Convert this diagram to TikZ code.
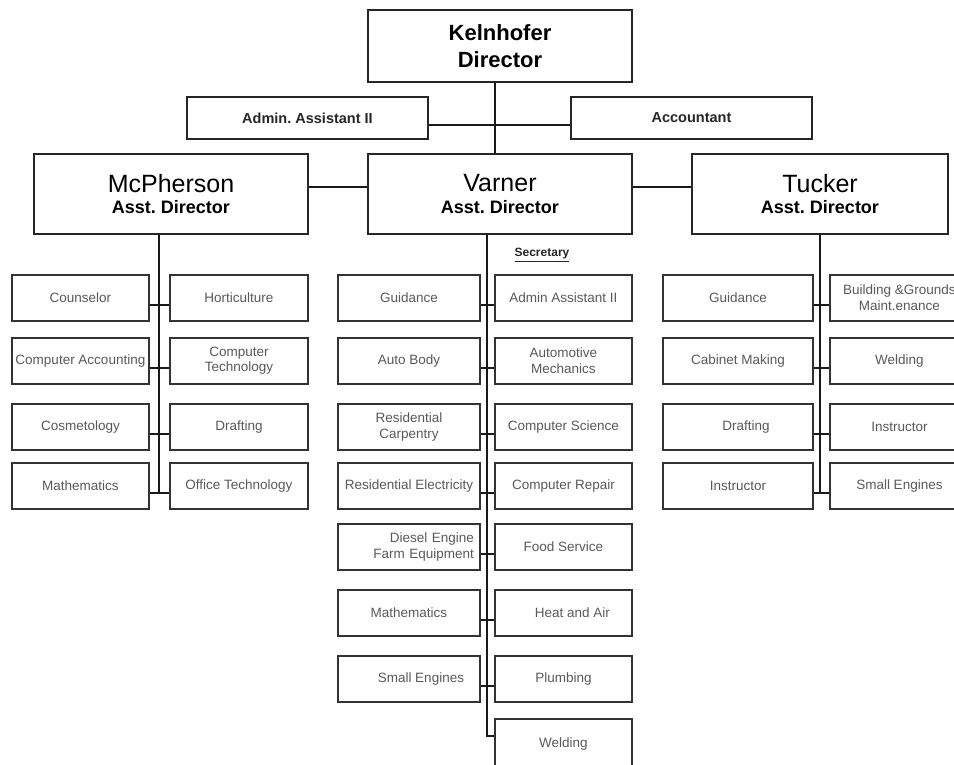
\documentclass[tikz,border=0pt]{standalone}
\usepackage{fontspec}
\setmainfont{Liberation Sans}
\usetikzlibrary{positioning}
\frenchspacing

\begin{document}
\begin{tikzpicture}[
        x=1pt, y=-1pt,
        head/.style={rectangle, draw=black!85, line width=2pt, anchor=north west, align=center, inner sep=0pt, minimum height=80pt, font=\fontsize{18}{21.5}\selectfont},
        staff/.style={rectangle, draw=black!85, line width=2pt, anchor=north west, align=center, inner sep=0pt, minimum width=241pt, minimum height=42pt, font=\fontsize{14.5}{16}\selectfont\bfseries, text=black!85},
        unit/.style={rectangle, draw=black!80, line width=1.8pt, anchor=north west, align=center, inner sep=0pt, minimum height=46pt, text=black!65, font=\fontsize{13.5}{15.5}\selectfont},
        link/.style={line width=1.8pt, draw=black!90}
    ]

        \useasboundingbox (0,0) rectangle (954,765);

        % Director
        \node [head, minimum width=264pt, minimum height=72pt, font=\fontsize{22}{27}\selectfont\bfseries] (kelnhofer) at (367,9) {Kelnhofer\\Director};

        % Staff
        \node [staff] (admin) at (186,96) {Admin. Assistant II};
        \node [staff] (accountant) at (570,96) {Accountant};

        % Assistant directors
        \node [head, minimum width=274pt] (mcpherson) at (33,153) {{\fontsize{25}{28}\selectfont McPherson}\\\textbf{Asst. Director}};
        \node [head, minimum width=264pt] (varner) at (367,153) {{\fontsize{25}{28}\selectfont Varner}\\\textbf{Asst. Director}};
        \node [head, minimum width=256pt] (tucker) at (691,153) {{\fontsize{25}{28}\selectfont Tucker}\\\textbf{Asst. Director}};

        % McPherson units
        \node [unit, minimum width=137pt] (counselor) at (11,274) {Counselor};
        \node [unit, minimum width=138pt] (horticulture) at (169,274) {Horticulture};
        \node [unit, minimum width=137pt] (compacc) at (11,337) {Computer Accounting};
        \node [unit, minimum width=138pt] (comptech) at (169,337) {Computer\\Technology};
        \node [unit, minimum width=137pt] (cosmetology) at (11,403) {Cosmetology};
        \node [unit, minimum width=138pt] (mdrafting) at (169,403) {Drafting};
        \node [unit, minimum width=137pt] (mmath) at (11,462) {Mathematics};
        \node [unit, minimum width=138pt] (officetech) at (169,462) {Office Technology};

        % Varner units
        \node [font=\fontsize{12}{14}\selectfont\bfseries, text=black!85] (secretary) at (542,255) {\underline{Secretary}};
        \node [unit, minimum width=142pt] (vguidance) at (337,274) {Guidance};
        \node [unit, minimum width=137pt] (vadmin) at (494,274) {Admin Assistant II};
        \node [unit, minimum width=142pt] (autobody) at (337,337) {Auto Body};
        \node [unit, minimum width=137pt] (automech) at (494,337) {Automotive\\Mechanics};
        \node [unit, minimum width=142pt] (carpentry) at (337,403) {Residential\\Carpentry};
        \node [unit, minimum width=137pt] (compsci) at (494,403) {Computer Science};
        \node [unit, minimum width=142pt] (electricity) at (337,462) {Residential Electricity};
        \node [unit, minimum width=137pt] (comprepair) at (494,462) {Computer Repair};
        \node [unit, minimum width=142pt, text width=130pt, align=right] (diesel) at (337,523) {Diesel Engine\\Farm Equipment};
        \node [unit, minimum width=137pt] (food) at (494,523) {Food Service};
        \node [unit, minimum width=142pt] (vmath) at (337,589) {Mathematics};
        \node [unit, minimum width=137pt] (heatair) at (494,589) {\hspace*{18pt}Heat and Air};
        \node [unit, minimum width=142pt] (vengines) at (337,655) {\hspace*{24pt}Small Engines};
        \node [unit, minimum width=137pt] (plumbing) at (494,655) {Plumbing};
        \node [unit, minimum width=137pt, minimum height=50pt] (vwelding) at (494,718) {Welding};

        % Tucker units
        \node [unit, minimum width=150pt] (tguidance) at (662,274) {Guidance};
        \node [unit, minimum width=139pt] (grounds) at (829,274) {Building \&Grounds\\Maint.enance};
        \node [unit, minimum width=150pt] (cabinet) at (662,337) {Cabinet Making};
        \node [unit, minimum width=139pt] (twelding) at (829,337) {Welding};
        \node [unit, minimum width=150pt] (tdrafting) at (662,403) {\hspace*{16pt}Drafting};
        \node [unit, minimum width=139pt] (tinstr) at (829,403) {Instructor};
        \node [unit, minimum width=150pt] (instructor) at (662,462) {Instructor};
        \node [unit, minimum width=139pt] (tengines) at (829,462) {Small Engines};

        % Lines
        \draw [link] ([xshift=-5pt]kelnhofer.south) -- ([xshift=-5pt]varner.north);
        \draw [link] ([yshift=-7pt]admin.east) -- ([yshift=-7pt]accountant.west);
        \draw [link] ([yshift=7pt]mcpherson.east) -- ([yshift=7pt]varner.west);
        \draw [link] ([yshift=7pt]varner.east) -- ([yshift=7pt]tucker.west);

        % Trunks
        \draw [link] ([xshift=-12pt]mcpherson.south) |- ([yshift=-7pt]mmath.east);
        \draw [link] ([xshift=-13pt]varner.south) |- ([yshift=8pt]vwelding.west);
        \draw [link] (tucker.south) |- ([yshift=-7pt]instructor.east);

        % Branches
        \draw [link] ([yshift=-7pt]counselor.east) -- ([yshift=-7pt]horticulture.west);
        \draw [link] ([yshift=-7pt]compacc.east) -- ([yshift=-7pt]comptech.west);
        \draw [link] ([yshift=-7pt]cosmetology.east) -- ([yshift=-7pt]mdrafting.west);
        \draw [link] ([yshift=-7pt]mmath.east) -- ([yshift=-7pt]officetech.west);

        \draw [link] ([yshift=-7pt]vguidance.east) -- ([yshift=-7pt]vadmin.west);
        \draw [link] ([yshift=-7pt]autobody.east) -- ([yshift=-7pt]automech.west);
        \draw [link] ([yshift=-7pt]carpentry.east) -- ([yshift=-7pt]compsci.west);
        \draw [link] ([yshift=-7pt]electricity.east) -- ([yshift=-7pt]comprepair.west);
        \draw [link] ([yshift=-7pt]diesel.east) -- ([yshift=-7pt]food.west);
        \draw [link] ([yshift=-7pt]vmath.east) -- ([yshift=-7pt]heatair.west);
        \draw [link] ([yshift=-7pt]vengines.east) -- ([yshift=-7pt]plumbing.west);

        \draw [link] ([yshift=-7pt]tguidance.east) -- ([yshift=-7pt]grounds.west);
        \draw [link] ([yshift=-7pt]cabinet.east) -- ([yshift=-7pt]twelding.west);
        \draw [link] ([yshift=-7pt]tdrafting.east) -- ([yshift=-7pt]tinstr.west);
        \draw [link] ([yshift=-7pt]instructor.east) -- ([yshift=-7pt]tengines.west);

    \end{tikzpicture}
\end{document}
